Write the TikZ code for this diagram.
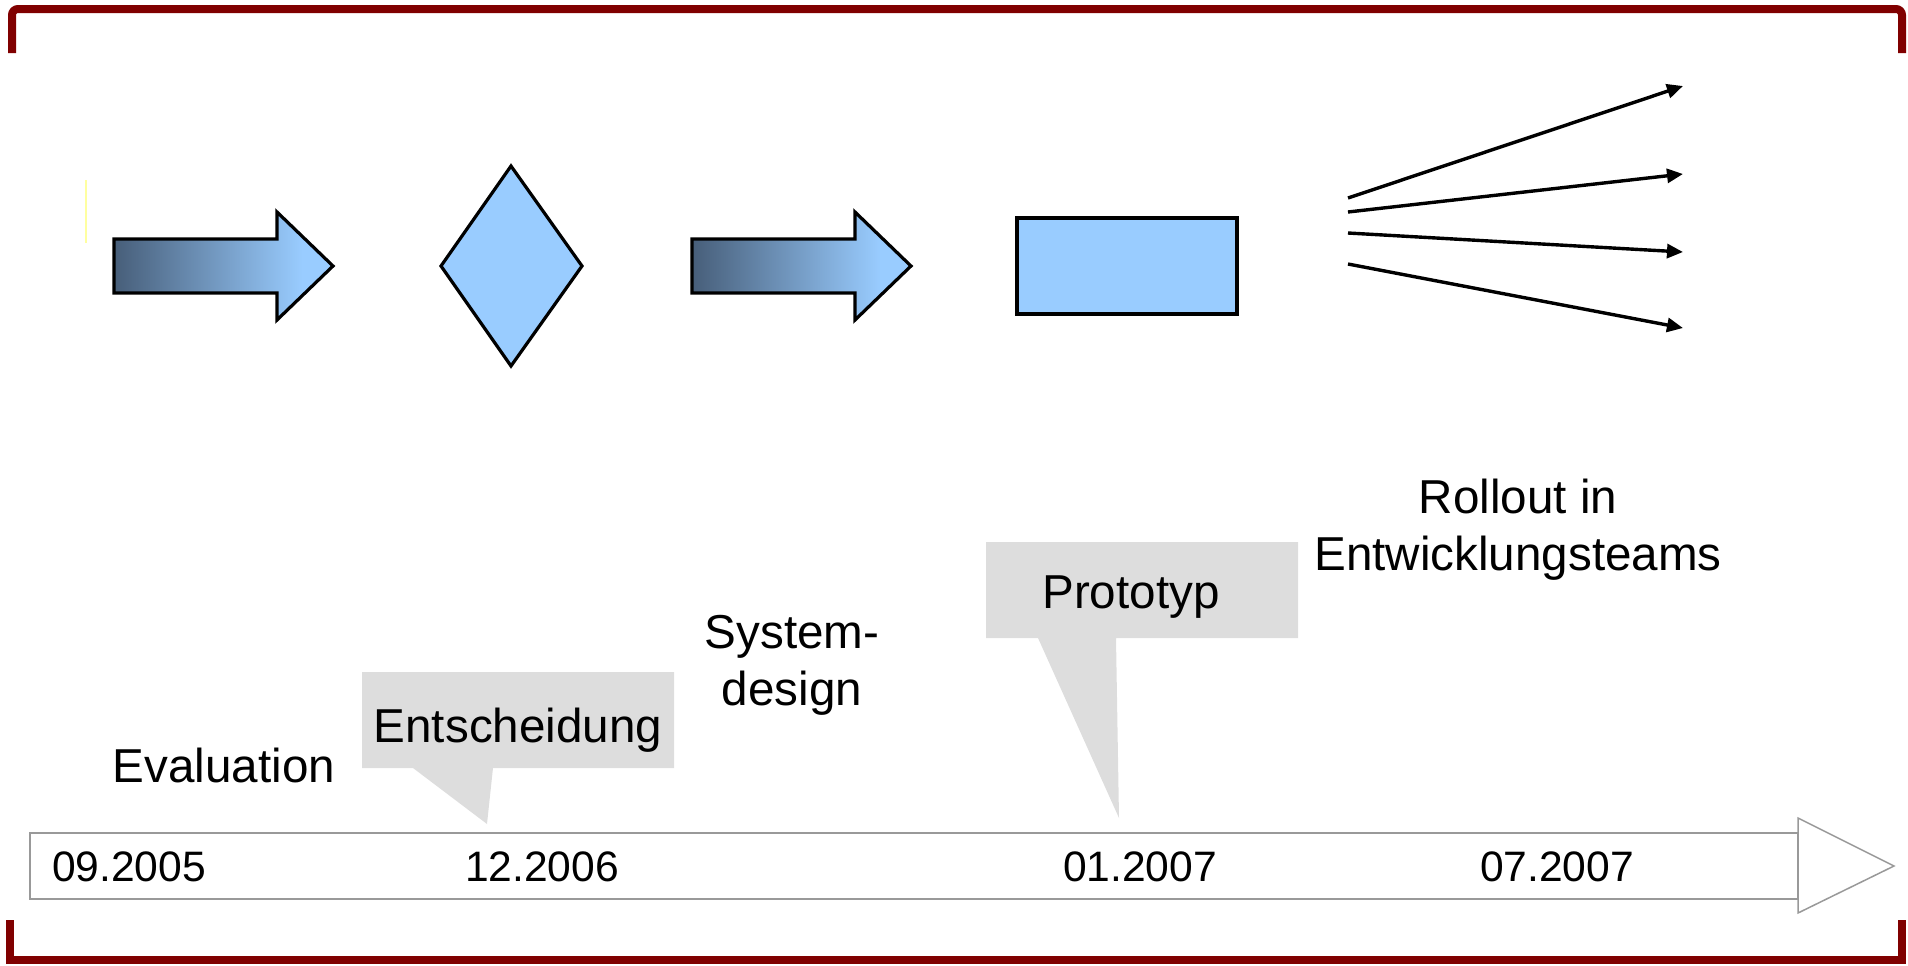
\documentclass[tikz,border=0pt]{standalone}
\usepackage{fontspec}
\setmainfont{Liberation Sans}
\usetikzlibrary{arrows.meta}

\definecolor{frame}{RGB}{128,0,0}
\definecolor{shapefill}{RGB}{153,204,255}
\definecolor{arrowdark}{RGB}{71,94,121}
\definecolor{bubble}{RGB}{221,221,221}
\definecolor{axisgray}{RGB}{153,153,153}
\definecolor{faintyellow}{RGB}{255,255,160}

% dark-to-light fill of the block arrows
\pgfdeclarehorizontalshading{blockfade}{100bp}{color(0bp)=(arrowdark); color(25bp)=(arrowdark); color(68bp)=(shapefill); color(100bp)=(shapefill)}

\tikzset{
  bracket/.style={draw=frame, line width=4pt},
  blockarrow/.style={draw=black, line width=1.6pt, shading=blockfade, line join=miter},
  shapebox/.style={draw=black, line width=1.6pt, fill=shapefill},
  fan/.style={line width=1.7pt, -{Triangle[length=8pt,width=7pt]}},
  phasetext/.style={font=\fontsize{23.8}{28.5}\selectfont, align=center, inner sep=0pt, anchor=base},
  datelabel/.style={font=\fontsize{21.3}{25}\selectfont, inner sep=0pt, anchor=base},
  bubblefill/.style={fill=bubble},
  axisline/.style={draw=axisgray, line width=0.75pt, fill=white},
}

\begin{document}
\begin{tikzpicture}[x=0.5pt,y=-0.5pt]
\useasboundingbox (0,0) rectangle (1908,965);

% frame brackets
\draw[bracket, rounded corners=3pt] (12,53) -- (12,9) -- (1902,9) -- (1902,53);
\draw[bracket] (10,920) -- (10,960) -- (1902,960) -- (1902,920);

% thin mark at the left
\draw[faintyellow, line width=1pt] (86,180) -- (86,243);

% block arrows
\foreach \dx in {0,578}{
  \draw[blockarrow, shift={(\dx,0)}] (114,239) -- (277,239) -- (277,212) -- (333,266)
    -- (277,320) -- (277,293) -- (114,293) -- cycle;
}

% decision diamond and prototype box
\draw[shapebox, line join=miter] (511,166) -- (582,266) -- (511,366) -- (441,266) -- cycle;
\draw[shapebox] (1017,218) rectangle (1237,314);

% rollout fan
\coordinate (f1s) at (1348,198); \coordinate (f1e) at (1683,86);
\coordinate (f2s) at (1348,212); \coordinate (f2e) at (1683,174);
\coordinate (f3s) at (1348,233); \coordinate (f3e) at (1683,252);
\coordinate (f4s) at (1348,264); \coordinate (f4e) at (1683,328);
\draw[fan] (f1s) -- (f1e);
\draw[fan] (f2s) -- (f2e);
\draw[fan] (f3s) -- (f3e);
\draw[fan] (f4s) -- (f4e);

% callouts
\fill[bubblefill] (362,672) -- (674,672) -- (674,768) -- (493,768) -- (487,824)
  -- (413,768) -- (362,768) -- cycle;
\fill[bubblefill] (986,542) -- (1298,542) -- (1298,638) -- (1116,638) -- (1119,818)
  -- (1038,638) -- (986,638) -- cycle;

% time axis
\draw[axisline] (30,833) rectangle (1798,899);
\draw[axisline] (1798,818) -- (1894,866) -- (1798,913) -- cycle;

% phase labels (multi-line nodes sit on the baseline of their last line)
\node[phasetext] (evaluation) at (224,782) {Evaluation};
\node[phasetext] (decision) at (518,742) {Entscheidung};
\node[phasetext] (sysdesign) at (792,705) {System-\\design};
\node[phasetext] (prototype) at (1131,608) {Prototyp};
\node[phasetext] (rollout) at (1518,570) {Rollout in\\Entwicklungsteams};

% dates
\node[datelabel] (d1) at (129,881) {09.2005};
\node[datelabel] (d2) at (542,881) {12.2006};
\node[datelabel] (d3) at (1140,881) {01.2007};
\node[datelabel] (d4) at (1557,881) {07.2007};
\end{tikzpicture}
\end{document}
